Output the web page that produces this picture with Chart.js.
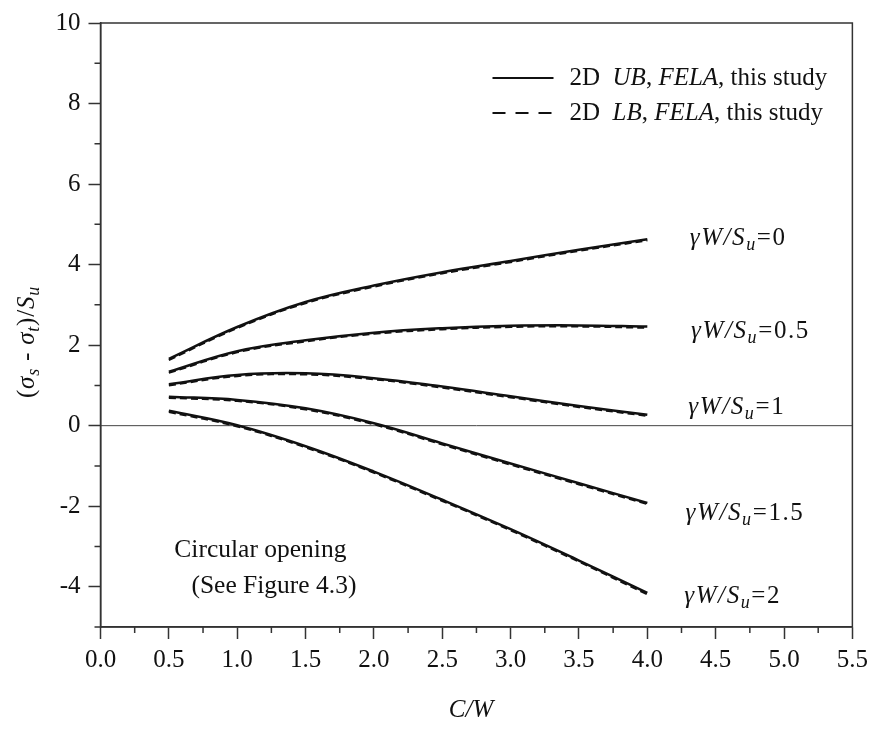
<!DOCTYPE html>
<html>
<head>
<meta charset="utf-8">
<script src="https://cdn.jsdelivr.net/npm/chart.js@4.4.1/dist/chart.umd.min.js"></script>
<style>
  html, body { margin: 0; padding: 0; background: #fff; }
  #wrap { width: 874px; height: 729px; }
</style>
</head>
<body>
<div id="wrap"><canvas id="chart" width="874" height="729"></canvas></div>
<script>
// C/W values where the curves were sampled
const cw = [0.5, 1.0, 1.5, 2.0, 2.5, 3.0, 3.5, 4.0];

// upper bound (solid)
const ub0 = [1.66, 2.45, 3.07, 3.48, 3.81, 4.09, 4.37, 4.63];
const ub05 = [1.34, 1.85, 2.12, 2.31, 2.42, 2.48, 2.49, 2.46];
const ub1 = [1.03, 1.26, 1.30, 1.18, 0.97, 0.73, 0.49, 0.27];
const ub15 = [0.72, 0.64, 0.43, 0.06, -0.44, -0.94, -1.43, -1.92];
const ub2 = [0.37, 0.01, -0.51, -1.14, -1.84, -2.57, -3.35, -4.15];

// lower bound (dashed)
const lb0 = [1.63, 2.42, 3.04, 3.45, 3.78, 4.06, 4.34, 4.60];
const lb05 = [1.31, 1.82, 2.09, 2.28, 2.39, 2.45, 2.46, 2.43];
const lb1 = [1.00, 1.23, 1.27, 1.15, 0.94, 0.70, 0.46, 0.24];
const lb15 = [0.69, 0.61, 0.40, 0.03, -0.47, -0.97, -1.46, -1.95];
const lb2 = [0.34, -0.02, -0.54, -1.17, -1.87, -2.60, -3.38, -4.19];

const gammaValues = ['0', '0.5', '1', '1.5', '2'];
const ubSeries = [ub0, ub05, ub1, ub15, ub2];
const lbSeries = [lb0, lb05, lb1, lb15, lb2];

// where the γW/Su labels sit, in data units
const labelAt = [
  { x: 4.31, y: 4.65 },
  { x: 4.32, y: 2.34 },
  { x: 4.30, y: 0.45 },
  { x: 4.28, y: -2.17 },
  { x: 4.27, y: -4.24 }
];

const FONT = "'Liberation Serif', 'Times New Roman', serif";
const INK = '#111';
const AXIS = '#333';

function toPoints(values) {
  return cw.map((x, i) => ({ x, y: values[i] }));
}

const datasets = [];
ubSeries.forEach((vals, i) => {
  datasets.push({
    label: 'UB ' + gammaValues[i],
    data: toPoints(vals),
    borderColor: INK,
    borderWidth: 2.5,
    pointRadius: 0,
    tension: 0.4,
    fill: false
  });
});
lbSeries.forEach((vals, i) => {
  datasets.push({
    label: 'LB ' + gammaValues[i],
    data: toPoints(vals),
    borderColor: INK,
    borderWidth: 2,
    borderDash: [7, 4],
    pointRadius: 0,
    tension: 0.4,
    fill: false
  });
});

// draw text made of pieces (italic / subscript), optional extra spacing per char
function setFont(ctx, p, size) {
  const s = p.sub ? size * 0.72 : size;
  ctx.font = (p.it ? 'italic ' : '') + s + 'px ' + FONT;
}

function richWidth(ctx, parts, size, gap = 0) {
  let w = 0;
  parts.forEach((p) => {
    setFont(ctx, p, size);
    w += ctx.measureText(p.t).width + gap * p.t.length;
  });
  return w;
}

function drawRich(ctx, x, y, parts, size, gap = 0) {
  let cx = x;
  parts.forEach((p) => {
    setFont(ctx, p, size);
    const yy = p.sub ? y + size * 0.28 : y;
    if (gap === 0) {
      ctx.fillText(p.t, cx, yy);
      cx += ctx.measureText(p.t).width;
    } else {
      for (const ch of p.t) {
        ctx.fillText(ch, cx, yy);
        cx += ctx.measureText(ch).width + gap;
      }
    }
  });
}

const decorPlugin = {
  id: 'decor',
  beforeDatasetsDraw(chart) {
    const { ctx, chartArea: a, scales } = chart;
    const y0 = scales.y.getPixelForValue(0);
    ctx.save();
    ctx.strokeStyle = '#444';
    ctx.lineWidth = 1;
    ctx.beginPath();
    ctx.moveTo(a.left, y0);
    ctx.lineTo(a.right, y0);
    ctx.stroke();
    ctx.restore();
  },
  afterDraw(chart) {
    const { ctx, chartArea: a, scales } = chart;
    ctx.save();

    // frame
    ctx.strokeStyle = AXIS;
    ctx.lineWidth = 1.5;
    ctx.strokeRect(a.left, a.top, a.right - a.left, a.bottom - a.top);

    // minor ticks
    ctx.beginPath();
    for (let v = 0.25; v < 5.5; v += 0.5) {
      const px = scales.x.getPixelForValue(v);
      ctx.moveTo(px, a.bottom);
      ctx.lineTo(px, a.bottom + 6);
    }
    for (let v = -5; v <= 10; v += 2) {
      const py = scales.y.getPixelForValue(v);
      ctx.moveTo(a.left, py);
      ctx.lineTo(a.left - 6, py);
    }
    ctx.stroke();

    ctx.fillStyle = INK;
    ctx.textBaseline = 'middle';

    // legend
    const lx = a.left + 392;
    const ly1 = a.top + 55;
    const ly2 = a.top + 90;
    ctx.strokeStyle = INK;
    ctx.lineWidth = 2;
    ctx.beginPath();
    ctx.moveTo(lx, ly1);
    ctx.lineTo(lx + 61, ly1);
    ctx.stroke();
    ctx.setLineDash([13, 10]);
    ctx.beginPath();
    ctx.moveTo(lx, ly2);
    ctx.lineTo(lx + 61, ly2);
    ctx.stroke();
    ctx.setLineDash([]);
    drawRich(ctx, lx + 77, ly1, [
      { t: '2D  ' }, { t: 'UB', it: true }, { t: ', ' }, { t: 'FELA', it: true }, { t: ', this study' }
    ], 25);
    drawRich(ctx, lx + 77, ly2, [
      { t: '2D  ' }, { t: 'LB', it: true }, { t: ', ' }, { t: 'FELA', it: true }, { t: ', this study' }
    ], 25);

    // curve labels
    labelAt.forEach((pos, i) => {
      const px = scales.x.getPixelForValue(pos.x);
      const py = scales.y.getPixelForValue(pos.y);
      drawRich(ctx, px, py, [
        { t: 'γW/S', it: true }, { t: 'u', it: true, sub: true }, { t: '=' + gammaValues[i] }
      ], 25, 1.6);
    });

    // note
    ctx.font = '25.5px ' + FONT;
    ctx.fillText('Circular opening', scales.x.getPixelForValue(0.54), scales.y.getPixelForValue(-3.09));
    ctx.fillText('(See Figure 4.3)', scales.x.getPixelForValue(0.665), scales.y.getPixelForValue(-3.99));

    // x title
    const xt = [{ t: 'C/W', it: true }];
    const xw = richWidth(ctx, xt, 25);
    drawRich(ctx, 471 - xw / 2, 710, xt, 25);

    // y title
    const yt = [
      { t: '(' }, { t: 'σ', it: true }, { t: 's', it: true, sub: true }, { t: ' - ' },
      { t: 'σ', it: true }, { t: 't', it: true, sub: true }, { t: ')/' },
      { t: 'S', it: true }, { t: 'u', it: true, sub: true }
    ];
    const yw = richWidth(ctx, yt, 25, 0.8);
    ctx.translate(27, 342);
    ctx.rotate(-Math.PI / 2);
    drawRich(ctx, -yw / 2, 0, yt, 25, 0.8);

    ctx.restore();
  }
};

new Chart(document.getElementById('chart'), {
  type: 'line',
  data: { datasets },
  options: {
    responsive: false,
    animation: false,
    events: [],
    layout: { padding: { top: 19, right: 20, left: 0, bottom: 0 } },
    plugins: {
      legend: { display: false },
      tooltip: { enabled: false }
    },
    scales: {
      x: {
        type: 'linear',
        min: 0,
        max: 5.5,
        afterFit: (scale) => { scale.height = 102; },
        ticks: {
          stepSize: 0.5,
          color: INK,
          padding: 6,
          font: { family: FONT, size: 25 },
          callback: (v) => v.toFixed(1)
        },
        grid: { drawOnChartArea: false, tickLength: 12, tickColor: AXIS, tickWidth: 1.5 },
        border: { color: AXIS, width: 1.5 }
      },
      y: {
        min: -5,
        max: 10,
        afterFit: (scale) => { scale.width = 100.5; },
        ticks: {
          stepSize: 1,
          color: INK,
          padding: 8,
          font: { family: FONT, size: 25 },
          callback: (v) => (v % 2 === 0 ? String(v) : '')
        },
        grid: {
          drawOnChartArea: false,
          tickLength: 12,
          tickWidth: 1.5,
          tickColor: (c) => (c.tick && c.tick.value % 2 === 0 ? AXIS : 'rgba(0,0,0,0)')
        },
        border: { color: AXIS, width: 1.5 }
      }
    }
  },
  plugins: [decorPlugin]
});
</script>
</body>
</html>
